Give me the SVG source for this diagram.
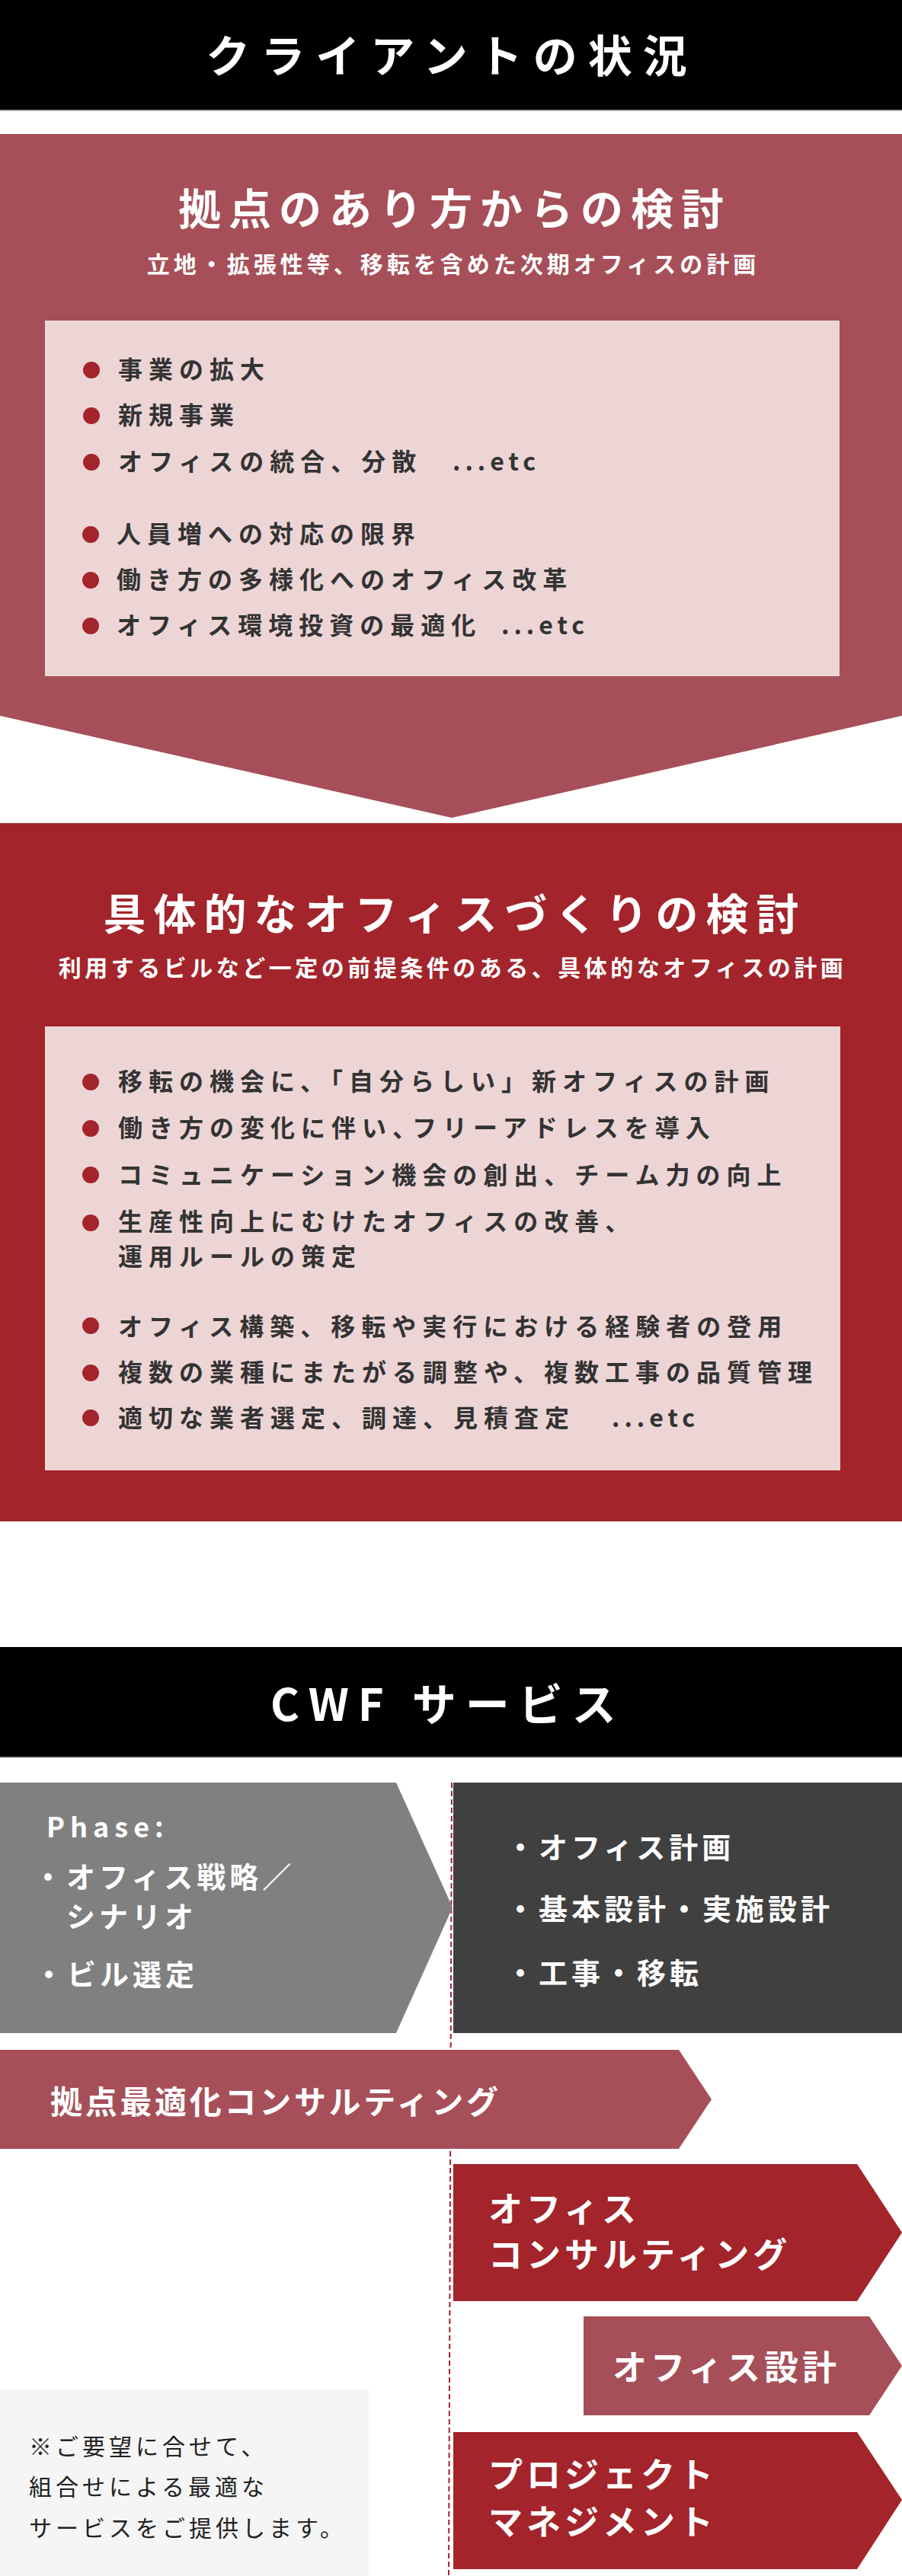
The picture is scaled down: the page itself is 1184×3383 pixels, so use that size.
<svg xmlns="http://www.w3.org/2000/svg" width="1184" height="3383" viewBox="0 0 1184 3383">
<style>
text{font-family:"Noto Sans CJK JP","Noto Sans",sans-serif}
.wt{fill:#fff;font-weight:700}
.hd{font-size:58px;letter-spacing:14px}
.tt{font-size:56px;letter-spacing:10px}
.st{font-size:30px;letter-spacing:5px}
.it{font-size:32px;letter-spacing:8px;fill:#333;font-weight:700}
.etc{letter-spacing:6px}
.bl{fill:#A3242B}
.ph{font-size:38px;letter-spacing:5px}
.bx{font-size:45px;letter-spacing:5px}
.nt{font-size:30px;letter-spacing:5px;fill:#222;font-weight:400}
</style>
<rect width="1184" height="3383" fill="#fff"/>

<g id="header-client">
<rect x="0" y="0" width="1184" height="145" fill="#000"/>
<rect x="0" y="144" width="1184" height="1.5" fill="#888"/>
<text class="wt hd" x="593" y="95" text-anchor="middle">クライアントの状況</text>
</g>

<g id="node-kyoten">
<polygon points="0,176 1184,176 1184,940 593,1074 0,940" fill="#A64F59"/>
<text class="wt tt" x="597" y="295" text-anchor="middle">拠点のあり方からの検討</text>
<text class="wt st" x="595" y="358" text-anchor="middle">立地・拡張性等、移転を含めた次期オフィスの計画</text>
<rect x="59" y="421" width="1043" height="467" fill="#EDD5D6"/>
<circle class="bl" cx="120" cy="486" r="11"/>
<circle class="bl" cx="120" cy="546" r="11"/>
<circle class="bl" cx="120" cy="607" r="11"/>
<circle class="bl" cx="119" cy="702" r="11"/>
<circle class="bl" cx="119" cy="762" r="11"/>
<circle class="bl" cx="119" cy="822" r="11"/>
<text class="it" x="155" y="497">事業の拡大</text>
<text class="it" x="155" y="557">新規事業</text>
<text class="it" x="155" y="618">オフィスの統合、分散<tspan class="etc" x="594">...etc</tspan></text>
<text class="it" x="153" y="713">人員増への対応の限界</text>
<text class="it" x="153" y="773">働き方の多様化へのオフィス改革</text>
<text class="it" x="153" y="833">オフィス環境投資の最適化<tspan class="etc" x="658">...etc</tspan></text>
</g>

<g id="node-gutai">
<rect x="0" y="1081" width="1184" height="917" fill="#A3242B"/>
<text class="wt tt" x="597" y="1221" text-anchor="middle">具体的なオフィスづくりの検討</text>
<text class="wt st" x="594" y="1282" text-anchor="middle" style="letter-spacing:4.5px">利用するビルなど一定の前提条件のある、具体的なオフィスの計画</text>
<rect x="59" y="1348" width="1044" height="583" fill="#EDD5D6"/>
<circle class="bl" cx="119" cy="1421" r="11"/>
<circle class="bl" cx="119" cy="1482" r="11"/>
<circle class="bl" cx="119" cy="1543" r="11"/>
<circle class="bl" cx="119" cy="1606" r="11"/>
<circle class="bl" cx="119" cy="1741" r="11"/>
<circle class="bl" cx="119" cy="1803" r="11"/>
<circle class="bl" cx="119" cy="1862" r="11"/>
<text class="it" x="155" y="1432">移転の機会に、「自分らしい」新オフィスの計画</text>
<text class="it" x="155" y="1493">働き方の変化に伴い、<tspan dx="-14">フリーアドレスを導入</tspan></text>
<text class="it" x="155" y="1555">コミュニケーション機会の創出、チーム力の向上</text>
<text class="it" x="155" y="1616">生産性向上にむけたオフィスの改善、</text>
<text class="it" x="155" y="1662">運用ルールの策定</text>
<text class="it" x="155" y="1754">オフィス構築、移転や実行における経験者の登用</text>
<text class="it" x="155" y="1814">複数の業種にまたがる調整や、複数工事の品質管理</text>
<text class="it" x="155" y="1874">適切な業者選定、調達、見積査定<tspan class="etc" x="803">...etc</tspan></text>
</g>

<g id="header-cwf">
<rect x="0" y="2163" width="1184" height="145" fill="#000"/>
<rect x="0" y="2307" width="1184" height="1.5" fill="#888"/>
<text class="wt hd" x="588" y="2260" text-anchor="middle" style="letter-spacing:12px">CWF サービス</text>
</g>

<g id="connectors">
<line x1="593" y1="2341" x2="589" y2="3383" stroke="#A3242B" stroke-width="2" stroke-dasharray="7 4"/>
</g>

<g id="node-phase">
<polygon points="0,2341 520,2341 594,2505 520,2670 0,2670" fill="#808080"/>
<text class="wt" x="61" y="2413" style="font-size:36px;letter-spacing:7px">Phase:</text>
<text class="wt ph" x="44" y="2479">・オフィス戦略／</text>
<text class="wt ph" x="87" y="2531">シナリオ</text>
<text class="wt ph" x="45" y="2607">・ビル選定</text>
</g>

<g id="node-design-phase">
<rect x="595" y="2341" width="589" height="329" fill="#404040"/>
<text class="wt ph" x="664" y="2440">・オフィス計画</text>
<text class="wt ph" x="664" y="2521">・基本設計・実施設計</text>
<text class="wt ph" x="664" y="2605">・工事・移転</text>
</g>

<g id="node-kyoten-consulting">
<polygon points="0,2692 891,2692 934,2757 891,2822 0,2822" fill="#A64F59"/>
<text class="wt" x="66" y="2776" style="font-size:42px;letter-spacing:3.7px">拠点最適化コンサルティング</text>
</g>

<g id="node-office-consulting">
<polygon points="595,2842 1125,2842 1184,2932 1125,3022 595,3022" fill="#A3242B"/>
<text class="wt bx" x="641" y="2918">オフィス</text>
<text class="wt bx" x="641" y="2978">コンサルティング</text>
</g>

<g id="node-office-design">
<polygon points="766,3042 1141,3042 1184,3107 1141,3172 766,3172" fill="#A64F59"/>
<text class="wt bx" x="804" y="3126">オフィス設計</text>
</g>

<g id="node-pm">
<polygon points="595,3194 1125,3194 1184,3283 1125,3374 595,3374" fill="#A3242B"/>
<text class="wt bx" x="641" y="3267">プロジェクト</text>
<text class="wt bx" x="641" y="3329">マネジメント</text>
</g>

<g id="node-note">
<rect x="0" y="3138" width="484" height="245" fill="#F5F5F5"/>
<text class="nt" x="38" y="3224">※ご要望に合せて、</text>
<text class="nt" x="38" y="3277">組合せによる最適な</text>
<text class="nt" x="38" y="3331">サービスをご提供します。</text>
</g>
</svg>
